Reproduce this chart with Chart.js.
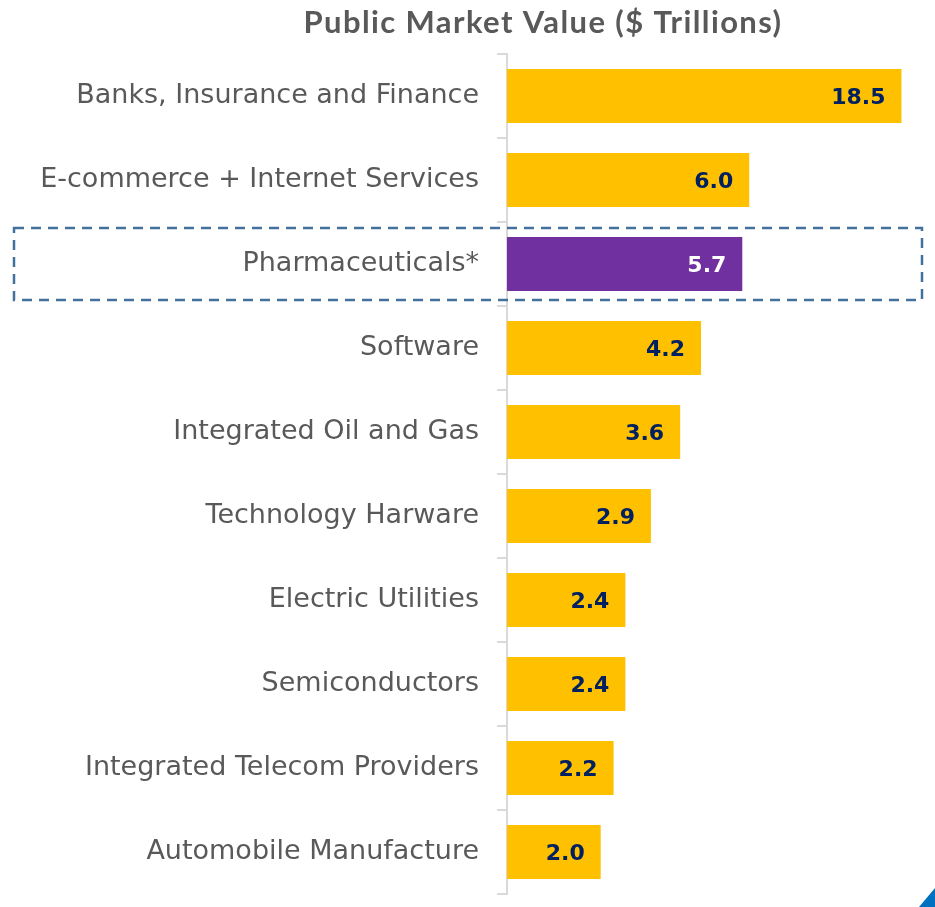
<!DOCTYPE html>
<html>
<head>
<meta charset="utf-8">
<script src="https://cdn.jsdelivr.net/npm/chart.js@4/dist/chart.umd.min.js"></script>
<style>
  html, body { margin: 0; padding: 0; background: #fff; }
  #wrap { width: 935px; height: 907px; position: relative; }
</style>
</head>
<body>
<div id="wrap"><canvas id="chart"></canvas></div>
<script>
const TITLE = 'Public Market Value ($ Trillions)';
const categories = [
  'Banks, Insurance and Finance',
  'E-commerce + Internet Services',
  'Pharmaceuticals*',
  'Software',
  'Integrated Oil and Gas',
  'Technology Harware',
  'Electric Utilities',
  'Semiconductors',
  'Integrated Telecom Providers',
  'Automobile Manufacture',
];
const values = [18.5, 6.0, 5.7, 4.2, 3.6, 2.9, 2.4, 2.4, 2.2, 2.0];
const highlighted = 'Pharmaceuticals*';

const YELLOW = '#FFC000';
const PURPLE = '#7030A0';
const NAVY = '#002060';
const GREY = '#595959';
const LABEL_FONT = "'DejaVu Sans', sans-serif";
const TITLE_FONT = "'Lato', 'DejaVu Sans', sans-serif";

const barColors = categories.map(c => (c === highlighted ? PURPLE : YELLOW));

// title, value labels, highlight box and the little corner mark
const extras = {
  id: 'extras',
  afterDatasetsDraw(chart) {
    let { ctx } = chart;
    let meta = chart.getDatasetMeta(0);
    ctx.save();
    ctx.font = `bold 22px ${LABEL_FONT}`;
    ctx.textAlign = 'right';
    ctx.textBaseline = 'middle';
    meta.data.forEach((bar, i) => {
      ctx.fillStyle = categories[i] === highlighted ? '#fff' : NAVY;
      ctx.fillText(values[i].toFixed(1), bar.x - 16, bar.y + 2);
    });
    ctx.restore();
  },
  afterDraw(chart) {
    let { ctx, chartArea, scales } = chart;
    ctx.save();
    ctx.fillStyle = GREY;
    ctx.font = `bold 31px ${TITLE_FONT}`;
    ctx.letterSpacing = '1.4px';
    ctx.textAlign = 'center';
    ctx.textBaseline = 'middle';
    ctx.fillText(TITLE, 543, 23);
    ctx.letterSpacing = '0px';

    let idx = categories.indexOf(highlighted);
    let cy = scales.y.getPixelForValue(idx);
    ctx.strokeStyle = '#41719C';
    ctx.lineWidth = 2.5;
    ctx.setLineDash([10, 7]);
    ctx.strokeRect(14, cy - 36, chartArea.right + 10 - 14, 72);
    ctx.setLineDash([]);

    ctx.fillStyle = '#0070C0';
    ctx.beginPath();
    ctx.moveTo(chart.width, chart.height - 19);
    ctx.lineTo(chart.width, chart.height);
    ctx.lineTo(chart.width - 16, chart.height);
    ctx.closePath();
    ctx.fill();
    ctx.restore();
  },
};

new Chart(document.getElementById('chart'), {
  type: 'bar',
  data: {
    labels: categories,
    datasets: [{
      data: values,
      backgroundColor: barColors,
      borderWidth: 0,
      barPercentage: 0.64,
      categoryPercentage: 1,
    }],
  },
  options: {
    indexAxis: 'y',
    responsive: true,
    maintainAspectRatio: false,
    animation: false,
    layout: { padding: { top: 54, right: 23, bottom: 13, left: 0 } },
    plugins: {
      legend: { display: false },
      tooltip: { enabled: false },
      title: { display: false },
    },
    scales: {
      x: {
        type: 'logarithmic',
        min: 1,
        max: 20,
        display: false,
      },
      y: {
        grid: {
          offset: true,
          drawOnChartArea: false,
          color: '#D9D9D9',
          lineWidth: 2,
          tickLength: 10,
        },
        border: { color: '#D9D9D9', width: 2 },
        ticks: {
          color: GREY,
          font: { family: LABEL_FONT, size: 27 },
          padding: 18,
        },
        afterFit(scale) {
          scale.width = 507;
          scale.paddingTop = 0;
          scale.paddingBottom = 0;
        },
      },
    },
  },
  plugins: [extras],
});
</script>
</body>
</html>
